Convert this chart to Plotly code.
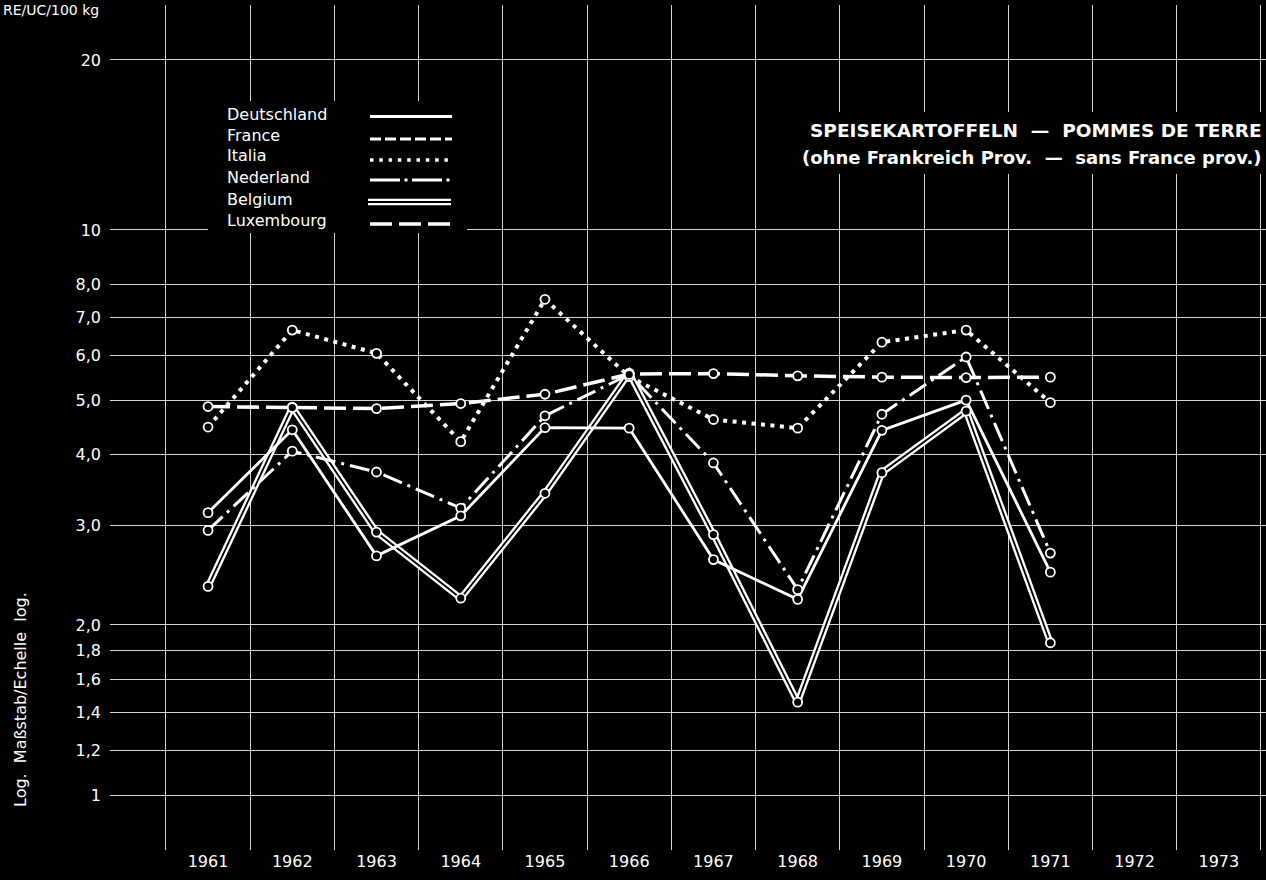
import plotly.graph_objects as go

# ---------------- data ----------------
years = [1961, 1962, 1963, 1964, 1965, 1966, 1967, 1968, 1969, 1970, 1971]
axis_years = [1961, 1962, 1963, 1964, 1965, 1966, 1967, 1968, 1969, 1970, 1971, 1972, 1973]
year_labels = [str(y) for y in axis_years]
grid_years = [1960.5, 1961.5, 1962.5, 1963.5, 1964.5, 1965.5, 1966.5, 1967.5,
              1968.5, 1969.5, 1970.5, 1971.5, 1972.5, 1973.5]

deutschland = [3.16, 4.43, 2.65, 3.12, 4.47, 4.46, 2.61, 2.22, 4.42, 5.00, 2.48]
france = []  # no values shown ("sans France prov.")
italia = [4.48, 6.65, 6.05, 4.22, 7.54, 5.50, 4.62, 4.46, 6.33, 6.65, 4.95]
nederland = [2.94, 4.06, 3.73, 3.22, 4.69, 5.55, 3.87, 2.31, 4.72, 5.96, 2.68]
belgium = [2.34, 4.86, 2.92, 2.23, 3.42, 5.58, 2.89, 1.46, 3.72, 4.78, 1.86]
luxembourg = [4.87, 4.85, 4.83, 4.93, 5.12, 5.56, 5.57, 5.52, 5.49, 5.48, 5.49]

y_ticks = [1, 1.2, 1.4, 1.6, 1.8, 2, 3, 4, 5, 6, 7, 8, 10, 20]
y_tick_labels = ["1", "1,2", "1,4", "1,6", "1,8", "2,0", "3,0", "4,0", "5,0",
                 "6,0", "7,0", "8,0", "10", "20"]

legend_names = ["Deutschland", "France", "Italia", "Nederland", "Belgium", "Luxembourg"]
title_1 = "SPEISEKARTOFFELN  —  POMMES DE TERRE"
title_2 = "(ohne Frankreich Prov.  —  sans France prov.)"
unit_label = "RE/UC/100 kg"
y_title = "Log.  Maßstab/Echelle  log."

# ---------------- layout constants ----------------
W, H = 1266, 880
ML, MR, MT, MB = 110, 0, 5, 30
PW, PH = W - ML - MR, H - MT - MB
FONT = "DejaVu Sans, Liberation Sans, Arial"
WHITE = "#ffffff"
GRID = "rgba(235,235,235,0.9)"


def px(x):
    return (x - ML) / PW


def py(y):
    return (H - MB - y) / PH


fig = go.Figure()

styles = {
    "Deutschland": dict(color=WHITE, width=2.8, dash="solid"),
    "Italia": dict(color=WHITE, width=4, dash="4px,5.5px"),
    "Nederland": dict(color=WHITE, width=3, dash="20px,6px,3px,6px"),
    "Luxembourg": dict(color=WHITE, width=3.5, dash="22px,7px"),
}

# Belgium: double line (white wide + black core)
fig.add_trace(go.Scatter(x=years, y=belgium, mode="lines",
                         line=dict(color=WHITE, width=6.5), showlegend=False,
                         hoverinfo="skip"))
fig.add_trace(go.Scatter(x=years, y=belgium, mode="lines",
                         line=dict(color="black", width=1.8), showlegend=False,
                         name="Belgium"))

series = [("Luxembourg", luxembourg), ("Italia", italia),
          ("Nederland", nederland), ("Deutschland", deutschland)]
for name, vals in series:
    fig.add_trace(go.Scatter(x=years, y=vals, mode="lines", name=name,
                             line=styles[name], showlegend=False))

# open circle markers on top
for name, vals in [("Belgium", belgium)] + series:
    fig.add_trace(go.Scatter(x=years, y=vals, mode="markers", name=name,
                             marker=dict(symbol="circle", size=9, color="black",
                                         line=dict(color=WHITE, width=1.8)),
                             showlegend=False))

shapes = []
annotations = []

# legend box (covers grid)
shapes.append(dict(type="rect", xref="paper", yref="paper", layer="above",
                   x0=px(208), x1=px(467), y0=py(233), y1=py(101),
                   fillcolor="black", line=dict(width=0)))
# title box
shapes.append(dict(type="rect", xref="paper", yref="paper", layer="above",
                   x0=px(795), x1=1.0, y0=py(174), y1=py(112),
                   fillcolor="black", line=dict(width=0)))

text_y = [114, 135, 156, 177.5, 199, 220.5]
sample_y = [116.5, 139, 160, 180, 202, 224]
sample_dash = ["solid", "11px,4px", "3.5px,5.8px", "30px,4.5px,3px,4.5px", None, "22px,7px"]
sample_w = [3, 3, 3.5, 3, None, 3.5]
for i, name in enumerate(legend_names):
    annotations.append(dict(xref="paper", yref="paper", x=px(225), y=py(text_y[i]),
                            xanchor="left", yanchor="middle", showarrow=False,
                            text=name, font=dict(family=FONT, size=16, color=WHITE)))
    if name == "Belgium":
        for dy in (-2.2, 2.2):
            shapes.append(dict(type="line", xref="paper", yref="paper", layer="above",
                               x0=px(368), x1=px(451), y0=py(sample_y[i] + dy),
                               y1=py(sample_y[i] + dy),
                               line=dict(color=WHITE, width=2.2)))
    else:
        shapes.append(dict(type="line", xref="paper", yref="paper", layer="above",
                           x0=px(370), x1=px(452), y0=py(sample_y[i]), y1=py(sample_y[i]),
                           line=dict(color=WHITE, width=sample_w[i], dash=sample_dash[i])))

# title
annotations.append(dict(xref="paper", yref="paper", x=px(1264), y=py(130),
                        xanchor="right", yanchor="middle", showarrow=False,
                        text="<b>" + title_1 + "</b>",
                        font=dict(family=FONT, size=18.5, color=WHITE)))
annotations.append(dict(xref="paper", yref="paper", x=px(1264), y=py(157),
                        xanchor="right", yanchor="middle", showarrow=False,
                        text="<b>" + title_2 + "</b>",
                        font=dict(family=FONT, size=18, color=WHITE)))
# unit label (top-left corner)
annotations.append(dict(xref="paper", yref="paper", x=px(1), y=py(0),
                        xanchor="left", yanchor="top", showarrow=False,
                        text=unit_label, font=dict(family=FONT, size=14, color=WHITE)))
# y axis title
annotations.append(dict(xref="paper", yref="paper", x=px(20), y=py(700),
                        xanchor="center", yanchor="middle", showarrow=False,
                        textangle=-90, text=y_title,
                        font=dict(family=FONT, size=16, color=WHITE)))

fig.update_layout(
    width=W, height=H,
    margin=dict(l=ML, r=MR, t=MT, b=MB, pad=0),
    paper_bgcolor="black", plot_bgcolor="black",
    showlegend=False,
    shapes=shapes, annotations=annotations,
    xaxis=dict(range=[1959.836, 1973.56], tickmode="array",
               tickvals=axis_years, ticktext=year_labels,
               showgrid=False, zeroline=False, showline=False, ticks="",
               tickfont=dict(family=FONT, size=16, color=WHITE),
               minor=dict(tickmode="array", tickvals=grid_years, showgrid=True,
                          gridcolor=GRID, gridwidth=1, ticks="")),
    yaxis=dict(type="log", range=[-0.0973, 1.3982], tickmode="array",
               tickvals=y_ticks, ticktext=y_tick_labels,
               showgrid=True, gridcolor=GRID, gridwidth=1,
               zeroline=False, showline=False, ticks="",
               ticklabelstandoff=8,
               tickfont=dict(family=FONT, size=16, color=WHITE)),
)

fig.write_html("out.html",
               config={"displayModeBar": False},
               post_script="document.body.style.margin='0';"
                           "document.body.style.background='black';")
